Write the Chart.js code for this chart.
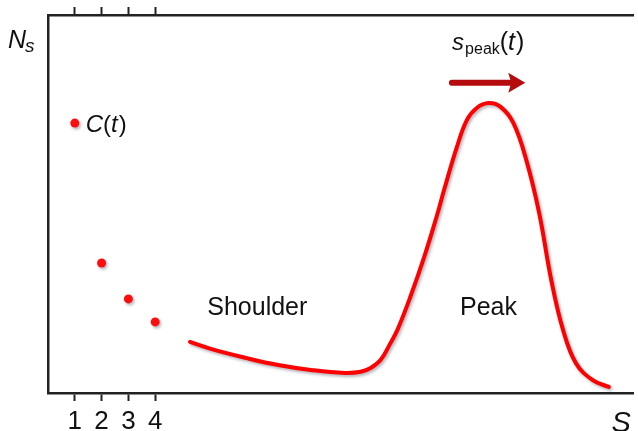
<!DOCTYPE html>
<html lang="en">
  <head>
    <meta charset="UTF-8" />
    <script src="https://cdn.jsdelivr.net/npm/chart.js"></script>
    <title>Ns vs s</title>
    <style>
      body { margin: 0; background: #fff; overflow: hidden; }
    </style>
  </head>
  <body>
    <canvas id="myChartCanvas" width="638" height="431"></canvas>
  </body>
</html>
<script>
  // small cluster sizes 1..4 and their counts C(t)
  const clusterSizes = [1, 2, 3, 4];
  const clusterCounts = [71.4, 34.4, 24.9, 18.8];

  // size distribution N_s: shoulder then peak
  const curveS = [5.3, 6.11, 7.37, 8.59, 9.81, 11.07, 11.67, 12.04, 12.41, 12.78, 13.04, 13.52, 14.04, 14.52,
    14.78, 15.26, 15.63, 16.0, 16.44, 16.89, 17.37, 17.85, 18.33, 18.78, 19.22, 19.7, 20.33, 20.93];
  const curveN = [13.5, 11.6, 9.3, 7.4, 6.1, 5.3, 5.6, 6.6, 8.7, 13.2, 16.7, 25.4, 36.0, 47.1,
    53.7, 65.1, 72.2, 75.4, 76.7, 75.7, 71.4, 61.6, 47.6, 29.9, 16.7, 7.9, 3.4, 1.6];

  const tickVals = [1, 2, 3, 4];

  const FONT = "'Liberation Sans', Arial, sans-serif";
  const AXIS = "#222";

  function setTicks(scale) {
    scale.ticks = tickVals.map(function (v) { return { value: v }; });
  }

  // drop shadow under the red marks
  const shadowPlugin = {
    id: "shadow",
    beforeDatasetsDraw(chart) {
      const ctx = chart.ctx;
      ctx.save();
      ctx.shadowColor = "rgba(40,40,60,0.35)";
      ctx.shadowBlur = 3;
      ctx.shadowOffsetX = 1.5;
      ctx.shadowOffsetY = 2;
    },
    afterDatasetsDraw(chart) {
      chart.ctx.restore();
    },
  };

  // draws a run of text pieces with their own fonts, left to right
  function drawRun(ctx, x, y, parts) {
    ctx.textBaseline = "alphabetic";
    ctx.textAlign = "left";
    parts.forEach(function (p) {
      ctx.font = p.font;
      ctx.fillText(p.text, x, y + (p.dy || 0));
      x += ctx.measureText(p.text).width + (p.gap || 0);
    });
  }

  const labelsPlugin = {
    id: "labels",
    afterDraw(chart) {
      const ctx = chart.ctx;
      const xs = chart.scales.x;
      const ys = chart.scales.y;
      const area = chart.chartArea;
      ctx.save();
      ctx.fillStyle = "#111";

      // axis titles
      drawRun(ctx, area.left - 40, 48, [
        { text: "N", font: "italic 25px " + FONT, gap: -1 },
        { text: "s", font: "italic 19px " + FONT, dy: 4 },
      ]);
      drawRun(ctx, area.right - 22, 432, [{ text: "S", font: "italic 29px " + FONT }]);

      // C(t) next to the first point
      drawRun(ctx, xs.getPixelForValue(1.41), ys.getPixelForValue(clusterCounts[0]) + 8.5, [
        { text: "C", font: "italic 24px " + FONT },
        { text: "(", font: "24px " + FONT },
        { text: "t", font: "italic 24px " + FONT, gap: 1 },
        { text: ")", font: "24px " + FONT },
      ]);

      // region names
      ctx.font = "25px " + FONT;
      ctx.textAlign = "center";
      ctx.fillText("Shoulder", xs.getPixelForValue(7.81), ys.getPixelForValue(20.6));
      ctx.fillText("Peak", xs.getPixelForValue(16.44), ys.getPixelForValue(20.6));

      // s_peak(t) with arrow
      drawRun(ctx, xs.getPixelForValue(15.08), ys.getPixelForValue(90.7), [
        { text: "s", font: "italic 24px " + FONT, gap: 1 },
        { text: "peak", font: "16px " + FONT, dy: 4 },
        { text: "(", font: "25px " + FONT },
        { text: "t", font: "italic 25px " + FONT, gap: 1 },
        { text: ")", font: "25px " + FONT },
      ]);

      const ax0 = xs.getPixelForValue(14.96);
      const ax1 = xs.getPixelForValue(17.81);
      const ay = ys.getPixelForValue(82.1);
      ctx.strokeStyle = "#b50d0d";
      ctx.fillStyle = "#b50d0d";
      ctx.lineWidth = 6;
      ctx.lineCap = "round";
      ctx.beginPath();
      ctx.moveTo(ax0 + 3, ay);
      ctx.lineTo(ax1 - 14, ay);
      ctx.stroke();
      ctx.beginPath();
      ctx.moveTo(ax1, ay);
      ctx.lineTo(ax1 - 17, ay - 10);
      ctx.lineTo(ax1 - 14, ay);
      ctx.lineTo(ax1 - 17, ay + 10);
      ctx.closePath();
      ctx.fill();
      ctx.restore();
    },
  };

  const dados = {
    datasets: [
      {
        label: "C(t)",
        data: clusterSizes.map(function (s, i) { return { x: s, y: clusterCounts[i] }; }),
        showLine: false,
        pointRadius: 4.5,
        pointBackgroundColor: "#ff0d0d",
        pointBorderWidth: 0,
      },
      {
        label: "Ns",
        data: curveS.map(function (s, i) { return { x: s, y: curveN[i] }; }),
        borderColor: "#ff0000",
        borderWidth: 4,
        borderCapStyle: "round",
        pointRadius: 0,
        tension: 0.4,
        fill: false,
      },
    ],
  };

  const config = {
    type: "line",
    data: dados,
    plugins: [shadowPlugin, labelsPlugin],
    options: {
      responsive: false,
      animation: false,
      layout: { padding: 0 },
      plugins: { legend: { display: false }, tooltip: { enabled: false } },
      scales: {
        x: {
          type: "linear",
          position: "bottom",
          min: 0,
          max: 21.85,
          afterBuildTicks: setTicks,
          afterFit: function (s) { s.height = 38; },
          border: { display: true, color: AXIS, width: 2.5 },
          grid: { drawOnChartArea: false, drawTicks: true, tickLength: 8, tickWidth: 2, tickColor: AXIS },
          ticks: { color: "#111", font: { family: FONT, size: 26 }, padding: 5, maxRotation: 0 },
        },
        xTop: {
          type: "linear",
          position: "top",
          min: 0,
          max: 21.85,
          afterBuildTicks: setTicks,
          afterFit: function (s) { s.height = 15; },
          border: { display: true, color: AXIS, width: 2.5 },
          grid: { drawOnChartArea: false, drawTicks: true, tickLength: 8, tickWidth: 2, tickColor: AXIS },
          ticks: { display: false },
        },
        y: {
          type: "linear",
          position: "left",
          min: 0,
          max: 100,
          afterFit: function (s) { s.width = 48; },
          border: { display: true, color: AXIS, width: 2.5 },
          grid: { display: false },
          ticks: { display: false },
        },
      },
    },
  };

  let myChart = new Chart(document.getElementById("myChartCanvas"), config);
</script>
